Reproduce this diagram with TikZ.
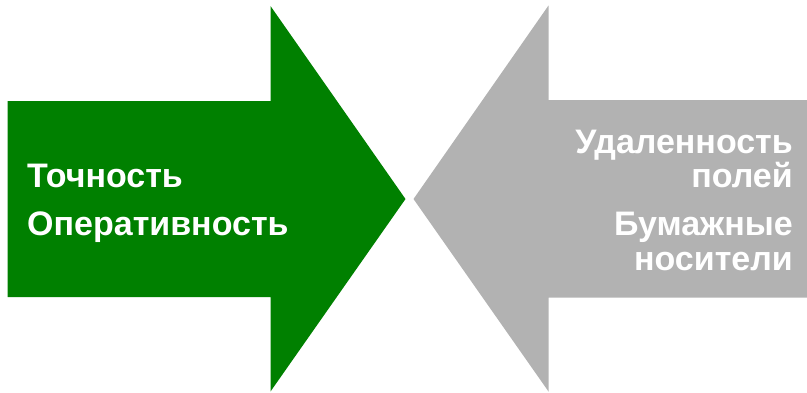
\documentclass[tikz,border=0pt]{standalone}
\usepackage{fontspec}
\setmainfont{Liberation Sans}
\definecolor{arrgreen}{HTML}{008000}
\definecolor{arrgray}{HTML}{B2B2B2}
\begin{document}
\begin{tikzpicture}[x=1pt,y=-1pt,
  lbl/.style={text=white,font=\fontsize{34}{40}\selectfont\bfseries,inner sep=0pt}]
\useasboundingbox (0,0) rectangle (807,392);
\fill[arrgreen] (7.5,101) -- (270.5,101) -- (270.5,6) -- (405.5,199) -- (270.5,391.5) -- (270.5,297) -- (7.5,297) -- cycle;
\fill[arrgray] (807,100) -- (548.5,100) -- (548.5,5.5) -- (413.5,199) -- (548.5,391.5) -- (548.5,297.5) -- (807,297.5) -- cycle;
\node[lbl,anchor=base west] (t1) at (27,187) {Точность};
\node[lbl,anchor=base west] (t2) at (27,235) {Оперативность};
\node[lbl,anchor=base east] (t3) at (793,153) {Удаленность};
\node[lbl,anchor=base east] (t4) at (793,187) {полей};
\node[lbl,anchor=base east] (t5) at (793,235) {Бумажные};
\node[lbl,anchor=base east] (t6) at (793,270) {носители};
\end{tikzpicture}
\end{document}
